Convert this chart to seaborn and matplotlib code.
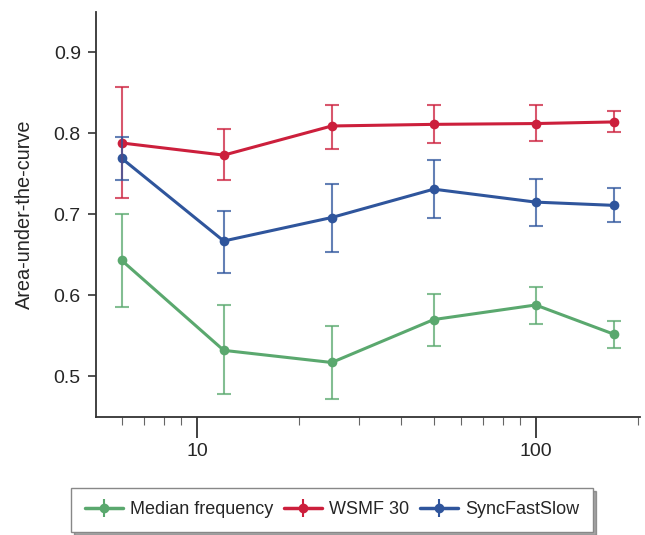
import matplotlib
matplotlib.use("Agg")
from matplotlib import pyplot as plt
import numpy as np
import pandas as pd
import seaborn as sns

# sample sizes (log x-axis)
sizes = [6, 12, 25, 50, 100, 170]
series_names = ["Median frequency", "WSMF 30", "SyncFastSlow"]

median_auc = [0.643, 0.532, 0.517, 0.570, 0.588, 0.552]
median_lo = [0.586, 0.478, 0.472, 0.537, 0.565, 0.535]
median_hi = [0.700, 0.588, 0.562, 0.602, 0.610, 0.568]

wsmf_auc = [0.788, 0.773, 0.809, 0.811, 0.812, 0.814]
wsmf_lo = [0.720, 0.742, 0.781, 0.788, 0.790, 0.801]
wsmf_hi = [0.857, 0.805, 0.835, 0.835, 0.835, 0.827]

sync_auc = [0.769, 0.667, 0.696, 0.731, 0.715, 0.711]
sync_lo = [0.742, 0.628, 0.654, 0.695, 0.685, 0.690]
sync_hi = [0.796, 0.704, 0.737, 0.767, 0.743, 0.732]

colors = ["#5aa86e", "#cc1f3c", "#2f559c"]

sns.set_theme(style="ticks")
plt.rcParams['font.family'] = ['Liberation Sans', 'DejaVu Sans']

df = pd.DataFrame({
    "size": sizes * 3,
    "auc": median_auc + wsmf_auc + sync_auc,
    "lo": median_lo + wsmf_lo + sync_lo,
    "hi": median_hi + wsmf_hi + sync_hi,
    "method": [n for n in series_names for _ in sizes],
})

fig = plt.figure(figsize=(6.45, 5.35), dpi=100)
ax = fig.add_axes([0.149, 0.221, 0.843, 0.757])

sns.lineplot(data=df, x="size", y="auc", hue="method", palette=colors,
             marker="o", markersize=7, markeredgewidth=0, linewidth=2.2,
             ax=ax, legend=False)

handles = []
for name, c in zip(series_names, colors):
    d = df[df["method"] == name]
    yerr = np.vstack([d["auc"] - d["lo"], d["hi"] - d["auc"]])
    ax.errorbar(d["size"], d["auc"], yerr=yerr, fmt="none", ecolor=c,
                alpha=0.75, elinewidth=1.5, capsize=5, capthick=1.5)
    h = ax.errorbar([], [], yerr=[], color=c, marker="o", markersize=6,
                    linewidth=2.5, elinewidth=1.5, capsize=6, capthick=1.5)
    handles.append(h)

ax.set_xscale("log")
ax.set_xlim(5.04, 203)
ax.set_ylim(0.45, 0.95)
ax.set_yticks([0.5, 0.6, 0.7, 0.8, 0.9])
ax.set_xticks([10, 100])
ax.set_xticklabels(["10", "100"])
ax.xaxis.set_minor_formatter(matplotlib.ticker.NullFormatter())
ax.set_xlabel("")
ax.set_ylabel("Area-under-the-curve", fontsize=14.3, labelpad=14)

for s in ["top", "right"]:
    ax.spines[s].set_visible(False)
for s in ["left", "bottom"]:
    ax.spines[s].set_color("#333333")
    ax.spines[s].set_linewidth(1.3)

ax.tick_params(axis="y", which="major", length=6, width=1.2, labelsize=14, pad=5, color="#333333")
ax.tick_params(axis="x", which="major", length=15, width=1.3, labelsize=14, pad=4, color="#333333")
ax.tick_params(axis="x", which="minor", length=6, width=0.8, color="#666666")

leg = fig.legend(handles, series_names, loc="center", bbox_to_anchor=(0.515, 0.047),
                 ncol=3, fontsize=13, frameon=True, fancybox=False, shadow=True,
                 handlelength=2.1, columnspacing=0.6, handletextpad=0.4,
                 borderpad=0.75, borderaxespad=0.2)
leg.get_frame().set_edgecolor("#888888")
leg.get_frame().set_linewidth(1.0)

fig.savefig("out.png", dpi=100)
